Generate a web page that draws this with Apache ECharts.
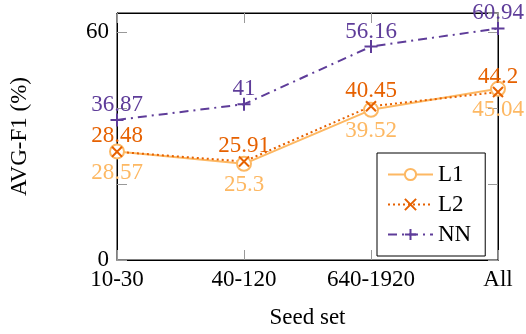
<!DOCTYPE html>
<html>
<head>
<meta charset="utf-8">
<script src="https://cdn.jsdelivr.net/npm/echarts@6/dist/echarts.min.js"></script>
<style>
  html, body { margin: 0; padding: 0; background: #fff; }
  #chart { width: 526px; height: 334px; }
</style>
</head>
<body>
<div id="chart"></div>
<script>
// seed set sizes on the x axis
const seedSets = ['10-30', '40-120', '640-1920', 'All']
// AVG-F1 (%) per regularisation
const l1Values = [28.57, 25.3, 39.52, 45.04]
const l2Values = [28.48, 25.91, 40.45, 44.2]
const nnValues = [36.87, 41, 56.16, 60.94]
// only these y ticks carry a label
const yTickLabels = [0, 60]

const FONT = 'Liberation Serif'
const FS = 23
const tickGray = '#999'

const crossPath = 'path://M0,0L10,10M10,0L0,10'
const plusPath = 'path://M5,0L5,10M0,5L10,5'

function makeSeries(name, data, color, lineType, symbol, size, labelPos, labelDist) {
  return {
    name: name,
    type: 'line',
    data: data,
    symbol: symbol,
    symbolSize: size,
    showAllSymbol: true,
    lineStyle: { color: color, width: 2, type: lineType },
    itemStyle: { color: color, borderColor: color, borderWidth: 2 },
    label: {
      show: true,
      position: labelPos,
      distance: labelDist,
      color: color,
      fontFamily: FONT,
      fontSize: FS
    },
    emphasis: { disabled: true },
    animation: false
  }
}

const frameTick = { inside: true, length: 10, lineStyle: { color: tickGray } }
const frameLine = { show: true, onZero: false, lineStyle: { color: '#000', width: 1 } }

const chart = echarts.init(document.getElementById('chart'))
chart.setOption({
  backgroundColor: '#fff',
  textStyle: { fontFamily: FONT },
  grid: { left: 114.5, right: 28, top: 13, bottom: 72, show: true, borderColor: '#000', borderWidth: 1, backgroundColor: 'transparent' },
  legend: {
    orient: 'vertical',
    left: 377,
    top: 153,
    padding: [10, 14, 10, 10],
    itemWidth: 45,
    itemHeight: 14,
    itemGap: 7,
    backgroundColor: '#fff',
    borderColor: '#000',
    borderWidth: 1,
    borderRadius: 0,
    textStyle: { fontFamily: FONT, fontSize: FS, color: '#000' },
    data: ['L1', 'L2', 'NN']
  },
  xAxis: [{
    type: 'category',
    data: seedSets,
    boundaryGap: false,
    name: 'Seed set',
    nameLocation: 'middle',
    nameGap: 46,
    nameTextStyle: { fontFamily: FONT, fontSize: FS, color: '#000' },
    axisLine: frameLine,
    axisTick: frameTick,
    axisLabel: { fontFamily: FONT, fontSize: FS, color: '#000', margin: 8 }
  }, {
    type: 'category',
    data: seedSets,
    boundaryGap: false,
    position: 'top',
    axisLine: frameLine,
    axisTick: frameTick,
    axisLabel: { show: false }
  }],
  yAxis: [{
    type: 'value',
    min: 0,
    max: 65,
    interval: 20,
    name: 'AVG-F1 (%)',
    nameLocation: 'middle',
    nameGap: 86,
    nameTextStyle: { fontFamily: FONT, fontSize: FS, color: '#000' },
    axisLine: frameLine,
    axisTick: Object.assign({ show: true }, frameTick),
    splitLine: { show: false },
    axisLabel: {
      fontFamily: FONT, fontSize: FS, color: '#000', margin: 8,
      showMaxLabel: false,
      formatter: v => (yTickLabels.indexOf(v) >= 0 ? String(v) : '')
    }
  }, {
    type: 'value',
    min: 0,
    max: 65,
    interval: 20,
    position: 'right',
    axisLine: frameLine,
    axisTick: Object.assign({ show: true }, frameTick),
    splitLine: { show: false },
    axisLabel: { show: false }
  }],
  series: [
    makeSeries('L1', l1Values, '#fdb863', 'solid', 'emptyCircle', 14, 'bottom', 2),
    makeSeries('L2', l2Values, '#e66101', [2, 3], crossPath, 10, 'top', -2),
    makeSeries('NN', nnValues, '#5e3c99', [9, 5, 2, 5], plusPath, 13, 'top', -4)
  ]
})
</script>
</body>
</html>
